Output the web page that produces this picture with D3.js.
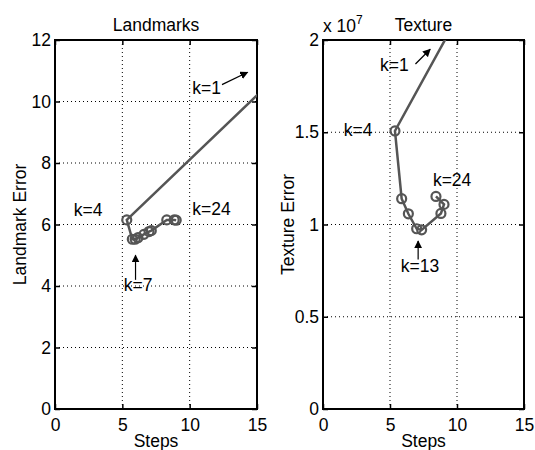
<!DOCTYPE html>
<html><head><meta charset="utf-8">
<script src="https://cdn.jsdelivr.net/npm/d3@7"></script>
<style>body{margin:0;background:#fff}svg text{font-family:"Liberation Sans",Arial,sans-serif;fill:#000}</style>
</head><body><svg id="c" width="535" height="450"></svg>
<script>
// Data (k=1 lies outside the visible area and is clipped)
const lmSteps = [18, 5.33, 5.74, 5.95, 6.16, 6.6, 6.98, 7.15, 8.3, 8.85, 9.0];
const lmError = [11.46, 6.15, 5.52, 5.52, 5.57, 5.68, 5.77, 5.8, 6.15, 6.15, 6.14];
const txSteps = [12, 5.37, 5.87, 6.37, 6.99, 7.36, 8.8, 9.03, 8.43];
const txError = [2.383e7, 1.507e7, 1.14e7, 1.058e7, 0.977e7, 0.971e7, 1.06e7, 1.109e7, 1.152e7];
const xTicks = [0, 5, 10, 15];
const lmTicks = [0, 2, 4, 6, 8, 10, 12];
const txTicks = [0, 0.5e7, 1e7, 1.5e7, 2e7];

const svg = d3.select("#c");
const FS = 17.5;

function panel(opts) {
  const {x0, x1, y0, y1, xDom, yDom, yTicks, yFmt, xs, ys, title, ylabel, id} = opts;
  const x = d3.scaleLinear().domain(xDom).range([x0, x1]);
  const y = d3.scaleLinear().domain(yDom).range([y1, y0]);
  const g = svg.append("g");
  g.append("clipPath").attr("id", id).append("rect")
    .attr("x", x0).attr("y", y0).attr("width", x1 - x0).attr("height", y1 - y0);
  // grid
  xTicks.slice(1, -1).forEach(t => g.append("line").attr("x1", x(t)).attr("x2", x(t))
    .attr("y1", y0).attr("y2", y1).attr("stroke", "#000").attr("stroke-width", 1).attr("stroke-dasharray", "1,3"));
  yTicks.slice(1, -1).forEach(t => g.append("line").attr("y1", y(t)).attr("y2", y(t))
    .attr("x1", x0).attr("x2", x1).attr("stroke", "#000").attr("stroke-width", 1).attr("stroke-dasharray", "1,3"));
  // axes
  const xa = g.append("g").attr("transform", `translate(0,${y1})`)
    .call(d3.axisBottom(x).tickValues(xTicks).tickSize(-5).tickPadding(10));
  const xt = g.append("g").attr("transform", `translate(0,${y0})`)
    .call(d3.axisTop(x).tickValues(xTicks).tickSize(-5).tickFormat(""));
  const ya = g.append("g").attr("transform", `translate(${x0},0)`)
    .call(d3.axisLeft(y).tickValues(yTicks).tickSize(-5).tickPadding(4).tickFormat(yFmt));
  const yr = g.append("g").attr("transform", `translate(${x1},0)`)
    .call(d3.axisRight(y).tickValues(yTicks).tickSize(-5).tickFormat(""));
  [xa, xt, ya, yr].forEach(a => {
    a.select(".domain").remove();
    a.selectAll("line").attr("stroke", "#000").attr("stroke-width", 1.5);
    a.selectAll("text").attr("font-size", FS).attr("font-family", "Liberation Sans, Arial, sans-serif");
  });
  ya.selectAll("text").attr("dy", "0.32em");
  g.append("rect").attr("x", x0).attr("y", y0).attr("width", x1 - x0).attr("height", y1 - y0)
    .attr("fill", "none").attr("stroke", "#000").attr("stroke-width", 2);
  // series
  const pts = xs.map((v, i) => [v, ys[i]]);
  const pg = g.append("g").attr("clip-path", `url(#${id})`);
  pg.append("path").datum(pts)
    .attr("d", d3.line().x(d => x(d[0])).y(d => y(d[1])))
    .attr("fill", "none").attr("stroke", "#555").attr("stroke-width", 2.5);
  pg.selectAll("circle").data(pts.slice(1)).join("circle")
    .attr("cx", d => x(d[0])).attr("cy", d => y(d[1])).attr("r", 4.5)
    .attr("fill", "none").attr("stroke", "#555").attr("stroke-width", 2.2);
  // labels
  g.append("text").attr("x", (x0 + x1) / 2).attr("y", y0 - 9).attr("text-anchor", "middle")
    .attr("font-size", FS).text(title);
  g.append("text").attr("x", (x0 + x1) / 2).attr("y", y1 + 38).attr("text-anchor", "middle")
    .attr("font-size", FS).text("Steps");
  g.append("text").attr("transform", `translate(${x0 - 29},${(y0 + y1) / 2}) rotate(-90)`)
    .attr("text-anchor", "middle").attr("font-size", FS).text(ylabel);
  return {x, y, g};
}

const L = panel({x0: 55, x1: 257, y0: 40, y1: 409, xDom: [0, 15], yDom: [0, 12], yTicks: lmTicks,
  yFmt: d3.format("d"), xs: lmSteps, ys: lmError, title: "Landmarks", ylabel: "Landmark Error", id: "clipL"});
const T = panel({x0: 323, x1: 524, y0: 40, y1: 409, xDom: [0, 15], yDom: [0, 2e7], yTicks: txTicks,
  yFmt: d => d3.format("")(d / 1e7), xs: txSteps, ys: txError, title: "Texture", ylabel: "Texture Error", id: "clipT"});

// exponent label
const ex = svg.append("text").attr("x", 323).attr("y", 32).attr("font-size", FS);
ex.append("tspan").text("x 10");
ex.append("tspan").attr("dy", -8).attr("font-size", 12).text("7");

// arrow marker
svg.append("defs").append("marker").attr("id", "ah").attr("viewBox", "0 0 10 10")
  .attr("refX", 9).attr("refY", 5).attr("markerWidth", 8).attr("markerHeight", 8)
  .attr("markerUnits", "userSpaceOnUse").attr("orient", "auto")
  .append("path").attr("d", "M0,0 L10,5 L0,10 z").attr("fill", "#000");

function note(P, tx, ty, label) {
  P.g.append("text").attr("x", P.x(tx)).attr("y", P.y(ty)).attr("font-size", FS).text(label);
}
function arrow(P, ax, ay, bx, by) {
  P.g.append("line").attr("x1", P.x(ax)).attr("y1", P.y(ay)).attr("x2", P.x(bx)).attr("y2", P.y(by))
    .attr("stroke", "#000").attr("stroke-width", 1.2).attr("marker-end", "url(#ah)");
}
// Landmarks annotations
note(L, 10.2, 10.25, "k=1");
arrow(L, 12.4, 10.55, 14.3, 10.95);
note(L, 1.4, 6.28, "k=4");
note(L, 10.2, 6.3, "k=24");
note(L, 5.1, 3.85, "k=7");
arrow(L, 5.98, 4.2, 5.98, 5.0);
// Texture annotations
note(T, 4.25, 1.83e7, "k=1");
arrow(T, 6.9, 1.87e7, 8.0, 1.95e7);
note(T, 1.55, 1.48e7, "k=4");
note(T, 8.2, 1.21e7, "k=24");
note(T, 5.8, 0.745e7, "k=13");
arrow(T, 7.1, 0.81e7, 7.1, 0.91e7);
</script></body></html>
